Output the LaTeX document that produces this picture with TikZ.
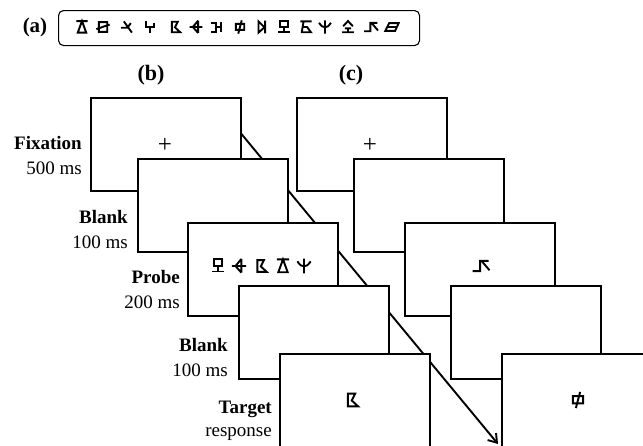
\documentclass[tikz,border=0pt]{standalone}
\usepackage{fontspec}
\setmainfont{Liberation Serif}
\usetikzlibrary{arrows.meta}
\tikzset{
 frame/.style={draw, fill=white, line width=1.8pt, minimum width=150pt, minimum height=93pt, anchor=north west, inner sep=0pt},
 lbl/.style={anchor=east, inner sep=0pt, font=\fontsize{19}{22}\selectfont},
 lblb/.style={anchor=east, inner sep=0pt, font=\fontsize{19}{22}\selectfont\bfseries},
 panel/.style={inner sep=0pt, font=\fontsize{22}{26}\selectfont\bfseries},
 plus/.style={inner sep=0pt, font=\fontsize{25}{28}\selectfont},
 arr/.style={line width=1.9pt, -{Straight Barb[length=8pt,width=11pt,line width=1.9pt]}},
 glyph/.style={line width=1.9pt, line join=miter, line cap=butt},
 g1/.pic={\draw[glyph] (-0.8,-0.85)--(0.8,-0.85) (0,-0.85)--(-0.6,0.8)--(0.6,0.8)--cycle;},
 g2/.pic={\draw[glyph] (-0.6,-0.7) rectangle (0.6,0.7) (-0.95,0.3)--(0.95,-0.35);},
 g3/.pic={\draw[glyph] (-0.45,-0.8)--(0.7,0.8) (0.55,-0.55)--(0.05,0.1)--(-0.85,0.1);},
 g4/.pic={\draw[glyph] (-0.6,-0.8)--(-0.6,0)--(0.6,0)--(0.6,-0.55) (0,0)--(0,0.9);},
 g5/.pic={\draw[glyph] (-0.6,-0.75)--(0.25,-0.75)--(-0.15,0.05)--(0.6,0.75)--(-0.6,0.75)--cycle;},
 g6/.pic={\draw[glyph] (-0.9,0)--(0.9,0) (0.3,-0.9)--(0.3,0.85) (0.3,-0.9)--(-0.45,0)--(0.3,0.85);},
 g7/.pic={\draw[glyph] (-0.9,-0.6)--(-0.1,-0.6)--(-0.1,0.65)--(-0.9,0.65) (-0.1,0)--(0.6,0) (0.6,-0.75)--(0.6,0.75);},
 g8/.pic={\draw[glyph] (-0.6,-0.45) rectangle (0.6,0.4) (0.25,-0.95)--(-0.25,0.95);},
 g9/.pic={\draw[glyph] (-0.5,-0.8)--(0.35,0.05)--(-0.5,0.8)--cycle (0.45,-0.9)--(0.45,0.9);},
 g10/.pic={\draw[glyph] (-0.55,-0.85) rectangle (0.55,-0.05) (0,-0.05)--(0,0.7) (-0.8,0.7)--(0.8,0.7);},
 g11/.pic={\draw[glyph] (-0.8,-0.8)--(0.8,-0.8) (-0.35,-0.8)--(-0.6,0.75)--(0.7,0.75)--(0.15,0)--(-0.47,0);},
 g12/.pic={\draw[glyph] (0,-0.95)--(0,0.95) (-0.85,-0.6) .. controls (-0.45,-0.05) .. (0,0.05) .. controls (0.45,-0.05) .. (0.85,-0.6);},
 g13/.pic={\draw[glyph] (-0.7,-0.1)--(0,-0.85)--(0.7,-0.1) (-0.45,0.2)--(0.45,0.2) (0,0.2)--(0,0.75) (-0.85,0.75)--(0.85,0.75);},
 g14/.pic={\draw[glyph] (-1,0.6)--(-0.1,0.6)--(-0.1,-0.6)--(0.9,-0.6) (0.15,-0.5)--(1,0.5);},
 g15/.pic={\draw[glyph] (-0.4,-0.55)--(0.95,-0.55)--(0.45,0.55)--(-0.95,0.55)--cycle (-0.7,0)--(0.75,0);},
}
\begin{document}
\begin{tikzpicture}[x=1pt,y=-1pt]
\useasboundingbox (0,0) rectangle (643,445);
\clip (0,0) rectangle (643,445);
% panel (a)
\node[panel, font=\fontsize{21}{24}\selectfont\bfseries] (la) at (35,27) {(a)};
\node[draw, rounded corners=5pt, line width=1.1pt, minimum width=361pt, minimum height=35pt, anchor=north west, inner sep=0pt] (abox) at (58,10) {};
\foreach \g/\x in {1/82,2/103,3/127,4/150,5/176,6/196,7/217,8/240,9/262,10/284,11/306,12/325,13/348,14/371,15/392}
  \pic[scale=7] at (\x,27) {g\g};
% panel labels
\node[panel] (lb) at (151,75) {(b)};
\node[panel] (lc) at (351,75) {(c)};
% arrow (behind frames)
\coordinate (as) at (239,131);
\coordinate (ae) at (498,444);
\draw[arr] (as) -- (ae);
% panel (b) frames
\node[frame] (b1) at (90,97) {};
\node[plus] (b1p) at (165,145) {+};
\node[frame] (b2) at (137,158) {};
\node[frame] (b3) at (187,222) {};
\pic[scale=7.8] at (218,266) {g10};
\pic[scale=7.8] at (239,266) {g6};
\pic[scale=7.8] at (262,266) {g5};
\pic[scale=7.8] at (283,266) {g1};
\pic[scale=7.8] at (304,266) {g12};
\node[frame] (b4) at (238,285) {};
\node[frame] (b5) at (279,353) {};
\pic[scale=8.5] at (353,400) {g5};
% labels (b)
\node[lblb] (t1) at (82,143) {Fixation};
\node[lbl] (d1) at (82,168) {500 ms};
\node[lblb] (t2) at (128,217) {Blank};
\node[lbl] (d2) at (128,242) {100 ms};
\node[lblb] (t3) at (180,277) {Probe};
\node[lbl] (d3) at (180,302) {200 ms};
\node[lblb] (t4) at (228,345) {Blank};
\node[lbl] (d4) at (228,370) {100 ms};
\node[lblb] (t5) at (272,409) {Target};
\node[lbl] (d5) at (272,434) {response};
% panel (c) frames
\node[frame] (c1) at (296,97) {};
\node[plus] (c1p) at (370,145) {+};
\node[frame] (c2) at (353,158) {};
\node[frame] (c3) at (404,222) {};
\pic[scale=8.5] at (481,266) {g14};
\node[frame] (c4) at (450,285) {};
\node[frame] (c5) at (501,353) {};
\pic[scale=8.5] at (578,400) {g8};
\end{tikzpicture}
\end{document}
